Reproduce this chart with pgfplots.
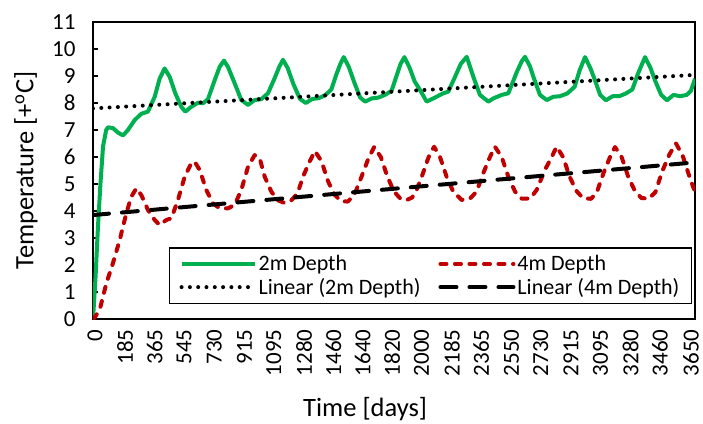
\documentclass[border=0pt]{standalone}
\usepackage{pgfplots}
\pgfplotsset{compat=1.18}
\usepackage{fontspec}
\setmainfont{Carlito}
\definecolor{cgreen}{HTML}{00B050}
\definecolor{cred}{HTML}{C00000}
\begin{document}
\begin{tikzpicture}
\begin{axis}[
 at={(0,0)}, anchor=south west,
 scale only axis, width=602bp, height=297bp,
 xmin=0, xmax=3650, ymin=0, ymax=11,
 axis line style={line width=2.5bp},
 ytick={0,1,...,11},
 xtick={12,195.2,373.4,551.6,734.8,918,1096.2,1279.4,1457.6,1635.8,1814,1992.3,2175.5,2353.7,2536.8,2715.1,2898.3,3076.5,3259.6,3437.9,3626},
 xticklabels={0,185,365,545,730,915,1095,1280,1460,1640,1820,2000,2185,2365,2550,2730,2915,3095,3280,3460,3650},
 xtick style={draw=none},
 ytick style={line width=1.5bp, black},
 tick align=inside, major tick length=5bp,
 ytick pos=left, xtick pos=bottom,
 tick label style={font=\fontsize{23bp}{27bp}\selectfont},
 xticklabel style={rotate=90, anchor=east, xshift=-7bp},
 yticklabel style={xshift=-14bp},
 /pgf/number format/assume math mode=true,
 xlabel={Time [days]},
 ylabel={Temperature [+\textsuperscript{o}C]},
 label style={font=\fontsize{26.5bp}{31bp}\selectfont},
 xlabel style={at={([yshift=-90bp]axis description cs:0.452,0)}, anchor=center},
 ylabel style={at={([xshift=-67bp]axis description cs:0,0.5)}, anchor=center},
 legend columns=2,
 legend cell align=left,
 legend style={at={(0.995,0.0505)}, anchor=south east, draw=black, line width=1.2bp,
   font=\fontsize{22bp}{26bp}\selectfont, inner xsep=10bp, inner ysep=4.5bp,
   nodes={inner xsep=2bp, inner ysep=3bp},
   /tikz/every even column/.append style={column sep=16bp}},
 legend image code/.code={\draw[#1] (0bp,0bp) -- (73bp,0bp);},
]
\addplot[color=cgreen, line width=4bp, line join=round, no markers] coordinates {
(0,0) (15,1.5) (30,3.4) (45,5.0) (61,6.4) (80,7.0) (91,7.1) (121,7.07) (152,6.9) (182,6.8) (212,7.0) (253,7.37) (293,7.6) (333,7.68) (374,8.23) (404,8.9) (434,9.28) (465,8.97) (499,8.36) (535,7.86) (560,7.68) (596,7.86) (637,8.01) (667,7.99) (697,8.14) (738,8.85) (768,9.34) (794,9.57) (818,9.34) (859,8.73) (899,8.11) (940,7.93) (980,8.11) (1020,8.14) (1061,8.36)
(1100,8.9) (1130,9.35) (1152,9.6) (1180,9.3) (1215,8.7) (1255,8.15) (1290,8.0) (1330,8.15) (1370,8.18) (1410,8.3)
(1445,8.5) (1475,9.05) (1500,9.45) (1520,9.7) (1550,9.35) (1585,8.75) (1620,8.2) (1650,8.05) (1690,8.17) (1730,8.2) (1770,8.3)
(1810,8.45) (1840,9.0) (1865,9.45) (1888,9.7) (1920,9.3) (1950,8.8) (1983,8.48) (2023,8.05) (2063,8.17) (2124,8.36) (2154,8.42) (2195,8.97) (2230,9.45) (2266,9.71) (2306,8.97) (2346,8.3) (2397,8.05) (2427,8.17) (2478,8.3) (2518,8.36) (2569,9.14) (2600,9.55) (2619,9.71) (2650,9.35) (2670,8.97) (2710,8.3) (2751,8.11) (2791,8.23) (2830,8.25) (2875,8.35) (2920,8.6) (2950,9.2) (2983,9.7) (3015,9.3) (3040,8.9) (3075,8.3) (3110,8.1) (3150,8.25) (3190,8.25) (3230,8.35) (3270,8.5) (3305,9.1) (3347,9.7) (3380,9.3) (3410,8.8) (3445,8.3) (3480,8.1) (3520,8.3) (3560,8.25) (3600,8.3) (3625,8.45) (3650,8.9)
};
\addlegendentry{2m Depth}
\addplot[color=cred, line width=4bp, dash pattern=on 6bp off 8.5bp, line cap=round, line join=round, no markers] coordinates {
(0,0) (15,0.1) (40,0.33) (81,1.32) (121,2.07) (162,2.93) (202,3.91) (232,4.53) (263,4.84) (293,4.59) (333,4.04) (374,3.67) (404,3.48) (445,3.67) (475,3.73) (515,4.41) (556,5.27) (596,5.77) (616,5.83) (647,5.52) (687,4.78) (728,4.28) (768,4.1) (818,4.1) (859,4.22) (899,4.78) (940,5.64) (980,6.07) (1011,5.95) (1041,5.27)
(1081,4.72) (1120,4.4) (1160,4.3) (1200,4.38) (1240,4.65) (1275,5.3) (1315,5.85) (1345,6.22) (1385,5.85) (1425,5.1) (1465,4.6) (1505,4.36) (1545,4.35) (1585,4.6) (1630,5.3) (1670,5.95) (1705,6.37) (1745,6.0) (1785,5.27) (1825,4.72) (1865,4.45) (1900,4.4) (1935,4.5) (1960,4.75) (1995,5.3) (2035,6.0) (2068,6.38) (2104,6.0) (2144,5.27) (2184,4.72) (2235,4.41) (2286,4.46) (2326,4.72) (2366,5.4) (2407,6.0) (2437,6.38) (2478,6.0) (2518,5.27) (2559,4.72) (2599,4.46) (2650,4.46) (2690,4.78) (2740,5.52) (2781,6.0) (2811,6.38) (2850,6.0) (2890,5.27) (2930,4.75) (2970,4.48) (3020,4.45) (3055,4.7) (3095,5.4) (3135,6.0) (3165,6.37) (3205,6.0) (3245,5.27) (3285,4.75) (3325,4.48) (3370,4.46) (3410,4.7) (3450,5.45) (3495,6.1) (3535,6.5) (3575,6.05) (3615,5.3) (3650,4.7)
};
\addlegendentry{4m Depth}
\addplot[color=black, line width=4bp, dash pattern=on 0bp off 8.3bp, line cap=round, no markers] coordinates {(0,7.8) (3650,9.04)};
\addlegendentry{Linear (2m Depth)}
\addplot[color=black, line width=4bp, dash pattern=on 16bp off 13bp, line cap=round, no markers] coordinates {(0,3.85) (3650,5.8)};
\addlegendentry{Linear (4m Depth)}
\end{axis}
\pgfresetboundingbox
\path[use as bounding box] (-93bp,-105bp) rectangle (610bp,319bp);
\end{tikzpicture}
\end{document}
